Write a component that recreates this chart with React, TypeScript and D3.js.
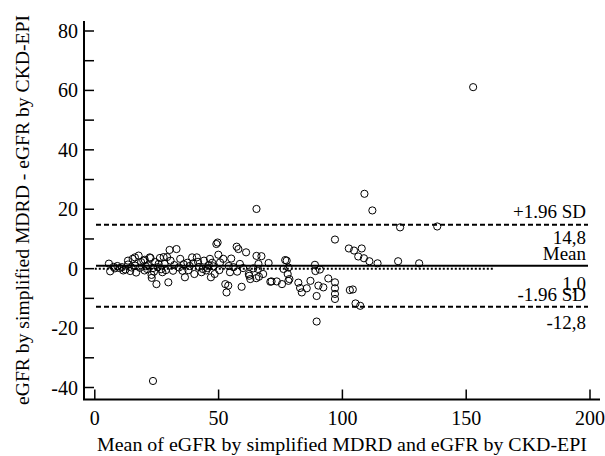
import React from "react";
import * as d3 from "d3";

const xTicks = [0, 50, 100, 150, 200];
const yTicks = [-40, -20, 0, 20, 40, 60, 80];
const yMinorTicks = [-30, -10, 10, 30, 50, 70];

const meanDiff = 1.0;
const upperLoA = 14.8;
const lowerLoA = -12.8;
const lineLabels = ["+1.96 SD", "14,8", "Mean", "1,0", "-1.96 SD", "-12,8"];

// [mean of two methods, difference]
const points: [number, number][] = [
  [5.7, 1.7], [6.2, -0.9], [7.6, 0.6], [9.1, 0.9], [10.0, 0.2], [11.0, 0.5], [12.4, -0.3], [13.4, 1.4],
  [14.3, -0.8], [15.3, 3.3], [16.3, 1.0], [16.7, -1.3], [17.7, 4.4], [18.2, 0.3], [18.7, 2.2],
  [8.1, 0.1], [11.5, -0.6], [13.4, 2.7], [16.2, 3.8], [14.8, 0.4],
  [19.6, 2.7], [20.1, -0.6], [21.1, -0.1], [21.5, 1.1], [22.5, 3.6], [23.0, -3.1], [23.5, 0.2], [24.4, 2.2],
  [24.9, -5.2], [25.8, 1.6], [26.3, 3.6], [26.8, -0.2], [27.8, 3.9], [28.2, 1.6], [28.7, -0.5],
  [29.2, 3.9], [29.7, -4.6], [30.2, 6.3], [30.6, 2.7], [31.6, -0.7], [33.0, 6.6],
  [20.2, 3.0], [22.2, 3.8], [22.9, -2.1], [20.6, 0.8], [23.9, -1.0], [25.4, 0.5], [27.3, -1.2], [32.1, 1.2],
  [34.5, 3.3], [35.4, -0.7], [36.4, -2.9], [37.4, 2.0], [38.3, 0.9], [39.3, 3.8], [40.2, -1.8],
  [41.2, 3.8], [42.1, 0.6], [43.1, -1.2], [44.1, 2.7], [45.0, -0.6], [46.0, 1.2], [46.5, 3.3],
  [46.9, -2.9], [47.9, 0.8], [48.4, -1.8], [49.1, 8.3], [49.6, 8.8], [49.9, 4.7], [50.6, 2.1], [51.9, 3.3],
  [34.0, 0.4], [35.9, 1.5], [37.8, -0.5], [39.7, 1.8], [41.7, 2.3], [43.6, -0.1], [45.5, 0.2], [47.4, 2.0], [50.3, -0.5],
  [52.7, -5.2], [53.2, -8.0], [53.9, -5.7], [54.6, -1.2], [55.1, 3.4], [56.0, 0.5], [57.3, 7.4], [57.5, -1.0],
  [58.0, 6.6], [58.6, 1.6], [59.3, -6.1], [59.9, 0.2], [61.1, 5.5], [62.2, -1.8], [62.8, -3.5], [64.0, 0.1],
  [65.2, -3.2], [65.3, 20.1], [65.3, 4.3], [65.9, -0.1], [66.1, 1.6], [67.3, 4.2], [68.0, -1.8],
  [70.2, 1.9], [70.9, -4.4], [62.4, -2.4], [66.3, -2.7], [54.1, 0.9],
  [71.4, -4.3], [73.5, -4.3], [75.6, -5.2], [76.2, -0.1], [76.9, 2.9], [77.5, 2.7], [77.9, -1.8],
  [78.2, 0.4], [78.6, -3.5], [78.2, -4.1], [82.2, -4.7], [82.9, -6.5], [83.6, -8.0], [85.6, -6.6],
  [87.1, -4.1], [88.9, 1.3], [89.1, -0.8], [89.6, -9.2], [89.6, -17.8], [90.3, -5.7], [90.9, -0.3],
  [92.3, -6.3], [94.3, -3.3], [97.0, -4.6], [97.0, -6.6], [97.0, -8.5], [97.0, -10.2], [97.0, 9.8],
  [102.6, 6.8], [104.7, 6.1], [107.8, 6.8], [106.4, 4.1], [108.7, 3.5], [110.9, 2.5], [114.2, 1.8],
  [122.5, 2.5], [131.0, 1.8], [108.9, 25.2], [112.1, 19.6], [123.3, 13.9], [138.3, 14.2],
  [103.0, -7.2], [104.2, -7.0], [105.3, -11.7], [107.2, -12.5],
  [152.8, 61.1], [23.5, -37.8],
];

const W = 605;
const H = 456;
const axisLeft = 84;
const axisBottom = 399.5;

export default function App() {
  const x = d3.scaleLinear().domain([0, 200]).range([94.8, 590]);
  const y = d3.scaleLinear().domain([-40, 80]).range([387.5, 31]);
  const font = "'Liberation Serif', 'Times New Roman', serif";
  const xStart = 96;
  const xEnd = 588;
  const dottedEnd = 494;
  const labelX = 586;

  return (
    <svg width={W} height={H} style={{ position: "absolute", left: 0, top: 0 }}>
      <rect width={W} height={H} fill="#fff" />
      {/* reference lines */}
      <line x1={x(0)} x2={dottedEnd} y1={y(0)} y2={y(0)} stroke="#000" strokeWidth={2} strokeDasharray="2,2" />
      <line x1={xStart} x2={xEnd} y1={y(meanDiff)} y2={y(meanDiff)} stroke="#000" strokeWidth={2} />
      <line x1={xStart} x2={xEnd} y1={y(upperLoA)} y2={y(upperLoA)} stroke="#000" strokeWidth={2} strokeDasharray="5,3" />
      <line x1={xStart} x2={xEnd} y1={y(lowerLoA)} y2={y(lowerLoA)} stroke="#000" strokeWidth={2} strokeDasharray="5,3" />
      {/* points */}
      {points.map((p, i) => (
        <circle key={i} cx={x(p[0])} cy={y(p[1])} r={3.6} fill="none" stroke="#000" strokeWidth={1} />
      ))}
      {/* axes */}
      <line x1={axisLeft} x2={axisLeft} y1={21} y2={axisBottom} stroke="#000" strokeWidth={2} />
      <line x1={axisLeft - 1} x2={600} y1={axisBottom} y2={axisBottom} stroke="#000" strokeWidth={2} />
      {yTicks.map((t) => (
        <g key={"y" + t}>
          <line x1={axisLeft} x2={axisLeft + 10} y1={y(t)} y2={y(t)} stroke="#000" strokeWidth={1.5} />
          <text x={78} y={y(t) + 7} textAnchor="end" fontFamily={font} fontSize={20}>{t}</text>
        </g>
      ))}
      {yMinorTicks.map((t) => (
        <line key={"ym" + t} x1={axisLeft} x2={axisLeft + 10} y1={y(t)} y2={y(t)} stroke="#000" strokeWidth={1.5} />
      ))}
      {xTicks.map((t) => (
        <g key={"x" + t}>
          <line x1={x(t)} x2={x(t)} y1={axisBottom} y2={axisBottom - 10} stroke="#000" strokeWidth={1.5} />
          <text x={x(t)} y={425} textAnchor="middle" fontFamily={font} fontSize={20}>{t}</text>
        </g>
      ))}
      <text x={342} y={451} textAnchor="middle" fontFamily={font} fontSize={19} textLength={490} lengthAdjust="spacingAndGlyphs">
        Mean of eGFR by simplified MDRD and eGFR by CKD-EPI
      </text>
      <text transform={`translate(29,210) rotate(-90)`} textAnchor="middle" fontFamily={font} fontSize={19} textLength={390} lengthAdjust="spacingAndGlyphs">
        eGFR by simplified MDRD - eGFR by CKD-EPI
      </text>
      {/* line labels */}
      <text x={labelX} y={y(upperLoA) - 6.5} textAnchor="end" fontFamily={font} fontSize={19}>{lineLabels[0]}</text>
      <text x={labelX} y={y(upperLoA) + 19} textAnchor="end" fontFamily={font} fontSize={19}>{lineLabels[1]}</text>
      <text x={labelX} y={y(meanDiff) - 6} textAnchor="end" fontFamily={font} fontSize={19}>{lineLabels[2]}</text>
      <text x={labelX} y={y(meanDiff) + 24} textAnchor="end" fontFamily={font} fontSize={19}>{lineLabels[3]}</text>
      <text x={labelX} y={y(lowerLoA) - 6} textAnchor="end" fontFamily={font} fontSize={19}>{lineLabels[4]}</text>
      <text x={labelX} y={y(lowerLoA) + 22} textAnchor="end" fontFamily={font} fontSize={19}>{lineLabels[5]}</text>
    </svg>
  );
}
